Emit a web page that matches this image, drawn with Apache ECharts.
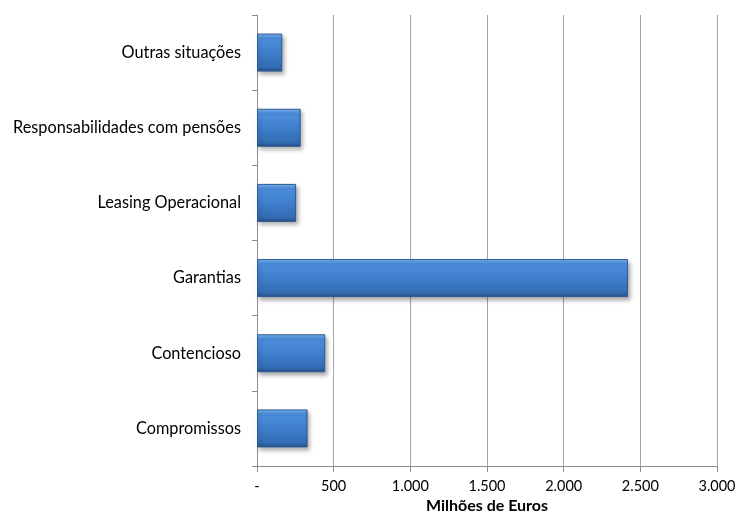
<!DOCTYPE html>
<html>
<head>
<meta charset="utf-8">
<script src="https://cdn.jsdelivr.net/npm/echarts@6/dist/echarts.min.js"></script>
<style>
  html, body { margin: 0; padding: 0; background: #fff; }
  #chart { width: 735px; height: 511px; }
</style>
</head>
<body>
<div id="chart"></div>
<script>
// Categories listed bottom to top (category axis starts at the bottom)
const categories = [
  'Compromissos',
  'Contencioso',
  'Garantias',
  'Leasing Operacional',
  'Responsabilidades com pensões',
  'Outras situações'
];
// Amounts in millions of euros
const values = [330, 445, 2420, 255, 285, 165];
const axisTitle = 'Milhões de Euros';

const FONT = 'Lato';

function fmtThousands(v) {
  if (v === 0) return '-';
  return String(v).replace(/\B(?=(\d{3})+(?!\d))/g, '.');
}

const chart = echarts.init(document.getElementById('chart'), null, { renderer: 'canvas' });

chart.setOption({
  animation: false,
  backgroundColor: '#ffffff',
  grid: {
    left: 257, right: 18, top: 15, bottom: 45,
    containLabel: false,
    outerBoundsMode: 'none'
  },
  xAxis: {
    type: 'value',
    min: 0,
    max: 3000,
    interval: 500,
    name: axisTitle,
    nameLocation: 'middle',
    nameGap: 40,
    nameMoveOverlap: false,
    nameTextStyle: {
      fontFamily: FONT, fontSize: 16, fontWeight: 'bold', color: '#000',
      verticalAlign: 'middle'
    },
    axisLine: { show: true, lineStyle: { color: '#8c8c8c', width: 1 } },
    axisTick: { show: true, length: 6, lineStyle: { color: '#8c8c8c' } },
    axisLabel: {
      margin: 13,
      fontFamily: FONT,
      fontSize: 14.5,
      color: '#000',
      formatter: fmtThousands
    },
    splitLine: { show: true, lineStyle: { color: '#a6a6a6', width: 1 } }
  },
  yAxis: {
    type: 'category',
    data: categories,
    axisLine: { show: true, lineStyle: { color: '#8c8c8c', width: 1 } },
    axisTick: { show: true, length: 5, inside: false, lineStyle: { color: '#8c8c8c' } },
    axisLabel: { margin: 16, fontFamily: FONT, fontSize: 16.3, color: '#000' },
    splitLine: { show: false }
  },
  series: [{
    type: 'bar',
    data: values,
    barWidth: 38,
    itemStyle: {
      color: new echarts.graphic.LinearGradient(0, 0, 0, 1, [
        { offset: 0, color: '#7ab8f4' },
        { offset: 0.12, color: '#4d8fde' },
        { offset: 0.5, color: '#3f7fcd' },
        { offset: 0.88, color: '#336cb3' },
        { offset: 1, color: '#284f86' }
      ]),
      borderColor: '#2d5a91',
      borderWidth: 1,
      shadowColor: 'rgba(0,0,0,0.3)',
      shadowBlur: 4,
      shadowOffsetX: 2,
      shadowOffsetY: 3
    }
  }]
});
</script>
</body>
</html>
